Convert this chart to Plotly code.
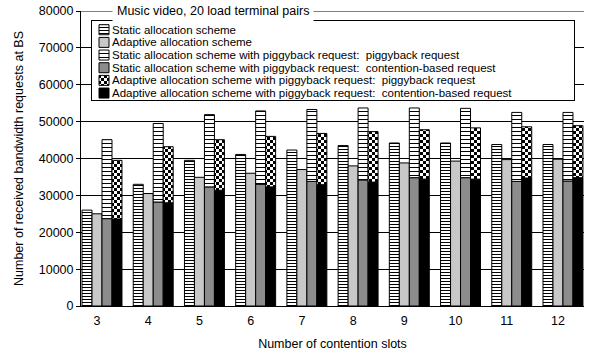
import plotly.graph_objects as go

# Number of contention slots
slots = [3, 4, 5, 6, 7, 8, 9, 10, 11, 12]

# Received bandwidth requests at the BS
static_alloc = [26000, 33000, 39500, 41100, 42300, 43500, 44200, 44200, 43800, 43800]
adaptive_alloc = [25000, 30500, 34900, 36000, 37000, 38000, 38800, 39300, 39700, 39800]
static_pb_contention = [23700, 28200, 32300, 33000, 33800, 34200, 34800, 34800, 33800, 33900]
static_pb_piggyback = [21400, 21300, 19600, 19900, 19500, 19500, 18900, 18800, 18700, 18600]
adaptive_pb_contention = [23600, 28000, 31400, 32300, 32900, 33600, 34400, 34400, 34700, 34800]
adaptive_pb_piggyback = [15900, 15200, 13700, 13700, 13900, 13700, 13400, 13900, 13900, 14100]

series_names = [
    "Static allocation scheme",
    "Adaptive allocation scheme",
    "Static allocation scheme with piggyback request:\u00a0 piggyback request",
    "Static allocation scheme with piggyback request:\u00a0 contention-based request",
    "Adaptive allocation scheme with piggyback request:\u00a0 piggyback request",
    "Adaptive allocation scheme with piggyback request:\u00a0 contention-based request",
]

FONT = "Liberation Sans, Arial, sans-serif"
FS = 12.5
LEGEND_FS = 11.5
BAR_W = 0.195
OUTLINE = dict(color="#000000", width=1)

# fill styles, in the same order as series_names
styles = [
    dict(color="white", pattern=dict(path="M0,0H3V1H0Z", size=3, fgcolor="black", bgcolor="white", fillmode="replace")),
    dict(color="#c8c8c8"),
    dict(color="white", pattern=dict(path="M0,0H4V1H0Z", size=4, fgcolor="black", bgcolor="white", fillmode="replace")),
    dict(color="#8c8c8c"),
    dict(color="white", pattern=dict(path="M0,0H3V3H0ZM3,3H6V6H3Z", size=6, fgcolor="black", bgcolor="white", fillmode="replace")),
    dict(color="black"),
]

fig = go.Figure()

def add_bar(values, style, offset, base=None):
    fig.add_trace(go.Bar(
        x=slots, y=values, base=base, width=BAR_W, offset=offset,
        marker=dict(line=OUTLINE, **style), showlegend=False, hoverinfo="skip",
    ))

add_bar(static_alloc, styles[0], -1.5 * BAR_W)
add_bar(adaptive_alloc, styles[1], -0.5 * BAR_W)
add_bar(static_pb_contention, styles[3], 0.5 * BAR_W)
add_bar(static_pb_piggyback, styles[2], 0.5 * BAR_W, base=static_pb_contention)
add_bar(adaptive_pb_contention, styles[5], 1.5 * BAR_W)
add_bar(adaptive_pb_piggyback, styles[4], 1.5 * BAR_W, base=adaptive_pb_contention)

# legend box: a helper subplot (x2/y2) whose x axis runs in pixels across the box
# and whose y axis counts legend rows from the top
LEG_W = 482
LEG_ROWS = (6.55, 0.31)
rows = list(range(1, len(series_names) + 1))

# white backing of the legend box, so the grid does not show through it
fig.add_trace(go.Bar(
    x=[LEG_W], y=[sum(LEG_ROWS) / 2], base=[0], orientation="h",
    width=LEG_ROWS[0] - LEG_ROWS[1], xaxis="x2", yaxis="y2",
    marker=dict(color="white", line=dict(width=0)), showlegend=False, hoverinfo="skip",
))
for row, style in zip(rows, styles):
    fig.add_trace(go.Bar(
        x=[10], y=[row], base=[7], orientation="h", width=0.79, xaxis="x2", yaxis="y2",
        marker=dict(line=OUTLINE, **style), showlegend=False, hoverinfo="skip",
    ))

annotations = [
    dict(text=name, xref="x2", yref="y2", x=19, y=row, xanchor="left", yanchor="middle",
         borderpad=0, showarrow=False, font=dict(family=FONT, size=LEGEND_FS, color="black"))
    for row, name in zip(rows, series_names)
]
annotations.append(dict(
    text="Music video, 20 load terminal pairs", xref="paper", yref="y",
    x=0.0616, y=80000, xanchor="left", yanchor="middle", showarrow=False,
    bgcolor="white", borderpad=4, font=dict(family=FONT, size=FS, color="black"),
))

legend_axis = dict(showticklabels=False, ticks="", showgrid=False, zeroline=False,
                   showline=True, mirror=True, linecolor="black", linewidth=1, fixedrange=True)

fig.update_layout(
    width=595, height=351,
    margin=dict(l=81, r=11, t=11, b=45),
    paper_bgcolor="white", plot_bgcolor="white",
    barmode="overlay",
    font=dict(family=FONT, size=FS, color="black"),
    xaxis=dict(
        range=[2.6875, 12.508], tickvals=slots, ticktext=[str(s) for s in slots],
        ticks="outside", ticklen=3, tickcolor="rgba(0,0,0,0)",
        showgrid=False, zeroline=False, showline=True, automargin=False,
        linecolor="black", linewidth=1, tickfont=dict(size=FS),
        title=dict(text="Number of contention slots", font=dict(size=FS), standoff=15),
    ),
    yaxis=dict(
        range=[0, 80000], dtick=10000, tickformat="d", automargin=False,
        ticks="outside", ticklen=4, tickcolor="black", showline=True,
        linecolor="black", linewidth=1, gridcolor="black", gridwidth=1,
        zeroline=False, tickfont=dict(size=FS),
        title=dict(text="Number of received bandwidth requests at BS", font=dict(size=FS), standoff=12),
    ),
    xaxis2=dict(domain=[(92 - 81) / 503, (574 - 81) / 503], range=[0, LEG_W], anchor="y2", **legend_axis),
    yaxis2=dict(domain=[1 - (100 - 11) / 295, 1 - (21 - 11) / 295], range=list(LEG_ROWS), anchor="x2", **legend_axis),
    shapes=[
        dict(type="line", xref="paper", yref="y", x0=0, x1=1, y0=80000, y1=80000,
             line=dict(color="black", width=1)),
    ],
    annotations=annotations,
)

fig.write_html("out.html")
